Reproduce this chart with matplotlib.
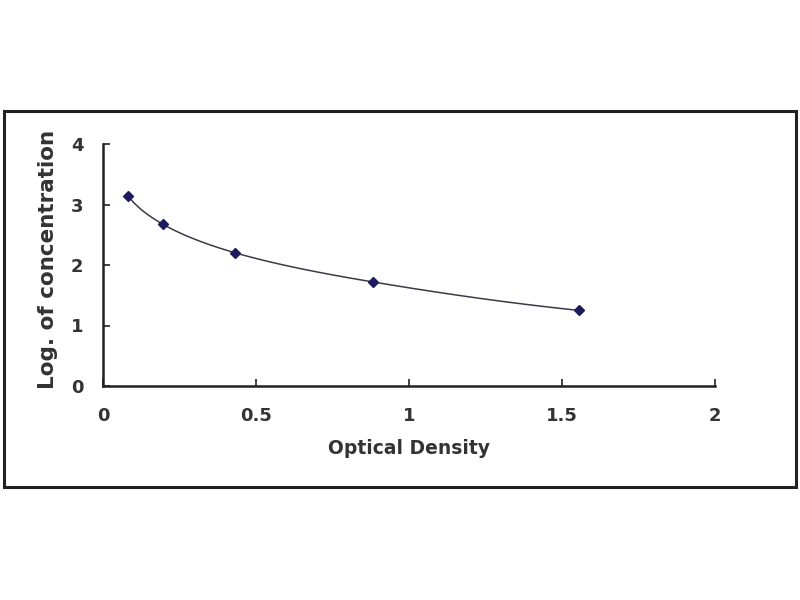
import numpy as np
import matplotlib
matplotlib.use("Agg")
import matplotlib.pyplot as plt
from matplotlib.patches import Rectangle

optical_density = [0.082, 0.197, 0.433, 0.882, 1.554]
log_concentration = [3.14, 2.67, 2.20, 1.72, 1.25]
x_ticks = [0, 0.5, 1, 1.5, 2]
x_tick_labels = ["0", "0.5", "1", "1.5", "2"]
y_ticks = [0, 1, 2, 3, 4]
y_tick_labels = ["0", "1", "2", "3", "4"]

plt.rcParams['font.family'] = ['DejaVu Sans']

fig = plt.figure(figsize=(8, 6), dpi=100)
fig.patch.set_facecolor('white')
fig.patches.append(Rectangle((4/800, (600-487)/600), 792/800, 376/600,
                             transform=fig.transFigure, fill=False,
                             edgecolor='#222222', linewidth=2.2))

ax = fig.add_axes([103/800, (600-386)/600, (715-103)/800, (386-144)/600])

# smooth rendering of the curve through the points (Catmull-Rom in log-x space)
px = np.log(np.array(optical_density))
py = np.array(log_concentration)
P = np.column_stack([px, py])
P = np.vstack([2*P[0]-P[1], P, 2*P[-1]-P[-2]])
cx, cy = [], []
for i in range(1, len(P)-2):
    p0, p1, p2, p3 = P[i-1], P[i], P[i+1], P[i+2]
    t = np.linspace(0, 1, 30)[:, None]
    seg = 0.5*((2*p1) + (-p0+p2)*t + (2*p0-5*p1+4*p2-p3)*t**2 + (-p0+3*p1-3*p2+p3)*t**3)
    cx.extend(seg[:, 0]); cy.extend(seg[:, 1])
ax.plot(np.exp(cx), cy, color='#3a3a4a', linewidth=1.1)
ax.plot(optical_density, log_concentration, linestyle='none', marker='D',
        markersize=5, color='#1c1c5c')

ax.set_xlim(0, 2)
ax.set_ylim(0, 4)
ax.set_xticks(x_ticks)
ax.set_xticklabels(x_tick_labels)
ax.set_yticks(y_ticks)
ax.set_yticklabels(y_tick_labels)
for s in ['top', 'right']:
    ax.spines[s].set_visible(False)
for s in ['left', 'bottom']:
    ax.spines[s].set_linewidth(1.8)
    ax.spines[s].set_color('#222222')
ax.tick_params(axis='both', direction='in', length=5, width=1.2, colors='#222222',
               labelsize=13)
ax.tick_params(axis='x', pad=15)
ax.tick_params(axis='y', pad=14)
for lab in ax.get_xticklabels() + ax.get_yticklabels():
    lab.set_fontweight('bold')
    lab.set_color('#333333')

ax.set_xlabel('Optical Density', fontsize=13.5, fontweight='bold', color='#333333', labelpad=10)
ax.set_ylabel('Log. of concentration', fontsize=15.5, fontweight='bold', color='#333333')
ax.yaxis.set_label_coords(-0.074, 0.525)

fig.savefig('out.png', dpi=100, facecolor='white')
